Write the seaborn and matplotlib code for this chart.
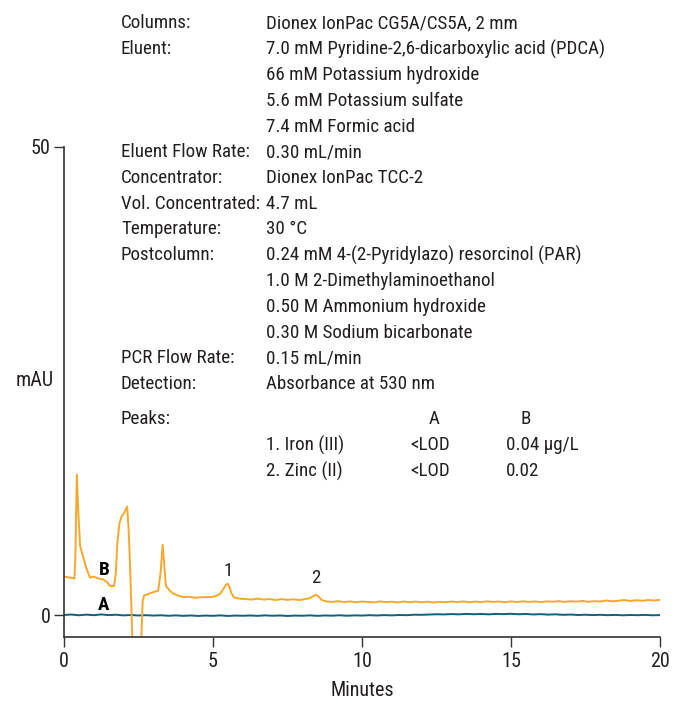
import matplotlib
matplotlib.use("Agg")
import matplotlib.pyplot as plt
import seaborn as sns
import pandas as pd

# Trace B (orange) - sample
minutes_b = [0.0, 0.2, 0.35, 0.38, 0.43, 0.48, 0.54, 0.65, 0.75, 0.87, 1.0, 1.15, 1.31,
             1.45, 1.54, 1.68, 1.74, 1.79, 1.86, 1.93, 2.02, 2.12, 2.17, 2.21, 2.26, 2.30,
             2.35, 2.55, 2.60, 2.64, 2.69, 2.8, 2.95, 3.05, 3.16, 3.24, 3.31, 3.36, 3.42,
             3.55, 3.66, 3.8, 4.0, 4.2, 4.4, 4.6, 4.79, 5.0, 5.12, 5.25, 5.35, 5.43, 5.49,
             5.55, 5.62, 5.70, 5.8, 5.9, 6.1, 6.3, 6.5, 6.7, 6.9, 7.1, 7.3, 7.5, 7.7, 7.9,
             8.1, 8.25, 8.38, 8.46, 8.55, 8.65, 8.8, 9.0, 9.2, 9.4, 9.6, 9.8, 10.0, 10.2,
             10.4, 10.6, 10.8, 11.0, 11.2, 11.4, 11.6, 11.8, 12.0, 12.2, 12.4, 12.6, 12.8,
             13.0, 13.2, 13.4, 13.6, 13.8, 14.0, 14.2, 14.4, 14.6, 14.8, 15.0, 15.2, 15.4,
             15.6, 15.8, 16.0, 16.2, 16.4, 16.6, 16.8, 17.0, 17.2, 17.4, 17.6, 17.8, 18.0,
             18.2, 18.4, 18.6, 18.8, 19.0, 19.2, 19.4, 19.6, 19.8, 20.0]
mau_b = [4.1, 4.0, 3.9, 6.0, 15.0, 11.0, 7.4, 6.1, 5.0, 4.0, 4.1, 3.9, 3.8,
         3.5, 3.1, 3.1, 4.5, 7.7, 9.8, 10.5, 10.9, 11.6, 9.0, 5.9, 1.0, -3.0,
         -6.0, -6.0, -2.0, 1.5, 2.1, 2.2, 2.4, 2.5, 2.6, 4.5, 7.5, 5.5, 3.1,
         2.6, 2.3, 2.1, 1.9, 1.95, 1.85, 1.9, 1.9, 1.95, 2.05, 2.3, 2.8, 3.2, 3.35,
         3.0, 2.3, 1.9, 1.8, 1.75, 1.7, 1.65, 1.75, 1.65, 1.7, 1.6, 1.7, 1.62, 1.68, 1.6,
         1.7, 1.8, 2.05, 2.15, 1.95, 1.6, 1.45, 1.4, 1.48, 1.38, 1.45, 1.36, 1.44, 1.4,
         1.35, 1.45, 1.38, 1.42, 1.35, 1.44, 1.37, 1.43, 1.36, 1.42, 1.34, 1.4, 1.36,
         1.44, 1.38, 1.45, 1.37, 1.43, 1.38, 1.46, 1.4, 1.44, 1.37, 1.45, 1.39, 1.47,
         1.4, 1.45, 1.38, 1.46, 1.42, 1.48, 1.4, 1.47, 1.43, 1.5, 1.42, 1.48, 1.44,
         1.55, 1.46, 1.52, 1.6, 1.5, 1.58, 1.52, 1.6, 1.55, 1.62]

# Trace A (blue) - blank
minutes_a = [0.0, 0.25, 0.5, 0.75, 1.0, 1.25, 1.5, 1.75, 2.0, 2.25, 2.5, 2.75, 3.0, 3.25,
             3.5, 3.75, 4.0, 4.25, 4.5, 4.75, 5.0, 5.25, 5.5, 5.75, 6.0, 6.25, 6.5, 6.75,
             7.0, 7.25, 7.5, 7.75, 8.0, 8.25, 8.5, 8.75, 9.0, 9.25, 9.5, 9.75, 10.0, 10.25,
             10.5, 10.75, 11.0, 11.25, 11.5, 11.75, 12.0, 12.25, 12.5, 12.75, 13.0, 13.25,
             13.5, 13.75, 14.0, 14.25, 14.5, 14.75, 15.0, 15.25, 15.5, 15.75, 16.0, 16.25,
             16.5, 16.75, 17.0, 17.25, 17.5, 17.75, 18.0, 18.25, 18.5, 18.75, 19.0, 19.25,
             19.5, 19.75, 20.0]
mau_a = [0.0, 0.05, -0.03, 0.04, -0.02, 0.06, -0.01, 0.03, -0.04, 0.0, -0.05, -0.02, -0.06,
         -0.03, -0.08, -0.04, -0.09, -0.05, -0.1, -0.06, -0.09, -0.04, -0.1, -0.06, -0.08,
         -0.05, -0.09, -0.04, -0.08, -0.05, -0.1, -0.06, -0.08, -0.04, -0.09, -0.05, -0.07,
         -0.03, -0.08, -0.04, -0.06, -0.02, -0.05, -0.01, -0.04, 0.0, -0.02, 0.03, 0.02,
         0.05, 0.08, 0.06, 0.1, 0.07, 0.12, 0.08, 0.11, 0.07, 0.12, 0.09, 0.13, 0.08, 0.11,
         0.06, 0.09, 0.04, 0.07, 0.02, 0.05, 0.0, 0.03, -0.01, 0.02, -0.02, 0.01, -0.03,
         0.0, -0.02, 0.01, -0.03, -0.01]

# Conditions text
cond_labels = ["Columns:", "Eluent:", "", "", "", "Eluent Flow Rate:", "Concentrator:",
               "Vol. Concentrated:", "Temperature:", "Postcolumn:", "", "", "",
               "PCR Flow Rate:", "Detection:"]
cond_values = ["Dionex IonPac CG5A/CS5A, 2 mm",
               "7.0 mM Pyridine-2,6-dicarboxylic acid (PDCA)",
               "66 mM Potassium hydroxide",
               "5.6 mM Potassium sulfate",
               "7.4 mM Formic acid",
               "0.30 mL/min",
               "Dionex IonPac TCC-2",
               "4.7 mL",
               "30 °C",
               "0.24 mM 4-(2-Pyridylazo) resorcinol (PAR)",
               "1.0 M 2-Dimethylaminoethanol",
               "0.50 M Ammonium hydroxide",
               "0.30 M Sodium bicarbonate",
               "0.15 mL/min",
               "Absorbance at 530 nm"]
peak_names = ["1. Iron (III)", "2. Zinc (II)"]
peak_a = ["<LOD", "<LOD"]
peak_b = ["0.04 µg/L", "0.02"]
peak_rt = [5.5, 8.45]
peak_lbl_y = [4.7, 3.95]

df_b = pd.DataFrame({"Minutes": minutes_b, "mAU": mau_b})
df_a = pd.DataFrame({"Minutes": minutes_a, "mAU": mau_a})

sns.set_style("ticks")
plt.rcParams["font.family"] = ["Roboto Condensed", "Roboto", "DejaVu Sans"]
TXT = "#231f20"
FS = 13.7

W, H = 675, 702
fig = plt.figure(figsize=(W / 100, H / 100), dpi=100)
ax = fig.add_axes([64 / W, 1 - 637 / H, (660 - 64) / W, (637 - 147) / H])

sns.lineplot(data=df_a, x="Minutes", y="mAU", ax=ax, color="#0f6180", lw=1.4)
sns.lineplot(data=df_b, x="Minutes", y="mAU", ax=ax, color="#f6a82a", lw=1.4)

ax.set_xlim(0, 20)
ax.set_ylim(-2.35, 50)
ax.set_xticks([0, 5, 10, 15, 20])
ax.set_yticks([0, 50])
ax.tick_params(axis="both", direction="out", length=7.5, width=1, labelsize=14.5,
               color="#333333", labelcolor=TXT)
ax.tick_params(axis="x", pad=3.5)
ax.tick_params(axis="y", pad=2)
for s in ["top", "right"]:
    ax.spines[s].set_visible(False)
for s in ["left", "bottom"]:
    ax.spines[s].set_color("#333333")
    ax.spines[s].set_linewidth(1.2)
ax.set_xlabel("")
ax.set_ylabel("")
fig.text(362 / W, 1 - 691 / H, "Minutes", fontsize=14.5, color=TXT, ha="center", va="center")
fig.text(35 / W, 1 - 381 / H, "mAU", fontsize=14.5, color=TXT, ha="center", va="center")

ax.text(1.34, 4.8, "B", fontsize=FS, fontweight="bold", ha="center", va="center", color="black")
ax.text(1.34, 1.07, "A", fontsize=FS, fontweight="bold", ha="center", va="center", color="black")
for i, rt in enumerate(peak_rt):
    ax.text(rt, peak_lbl_y[i], str(i + 1), fontsize=FS, ha="center", va="center", color=TXT)

# condition block
base = 28.5
step = 25.75
for i, (lab, val) in enumerate(zip(cond_labels, cond_values)):
    y = 1 - (base + i * step) / H
    if lab:
        fig.text(121 / W, y, lab, fontsize=FS, color=TXT, va="baseline")
    fig.text(266 / W, y, val, fontsize=FS, color=TXT, va="baseline")

yp = 1 - 424.5 / H
fig.text(121 / W, yp, "Peaks:", fontsize=FS, color=TXT, va="baseline")
fig.text(434 / W, yp, "A", fontsize=FS, color=TXT, va="baseline", ha="center")
fig.text(526 / W, yp, "B", fontsize=FS, color=TXT, va="baseline", ha="center")
for i, name in enumerate(peak_names):
    y = 1 - (450.5 + i * 26) / H
    fig.text(266 / W, y, name, fontsize=FS, color=TXT, va="baseline")
    fig.text(410 / W, y, peak_a[i], fontsize=FS, color=TXT, va="baseline")
    fig.text(506 / W, y, peak_b[i], fontsize=FS, color=TXT, va="baseline")

fig.savefig("out.png", dpi=100)
